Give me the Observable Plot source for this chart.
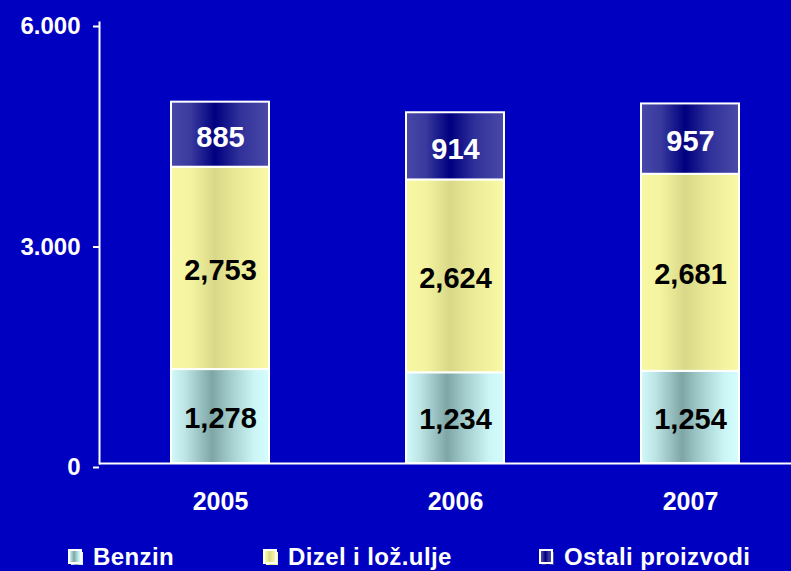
<!DOCTYPE html>
<html><head><meta charset="utf-8">
<script src="https://cdn.jsdelivr.net/npm/d3@7"></script>
<script src="https://cdn.jsdelivr.net/npm/@observablehq/plot@0.6"></script>
<style>
html,body{margin:0;padding:0;background:#0000C0;}
#wrap{width:791px;height:571px;position:relative;overflow:hidden;font-family:"Liberation Sans",Arial,sans-serif;}
#legend{position:relative;width:791px;height:41px;color:white;font-weight:bold;font-size:24px;}
.item{position:absolute;top:0;height:41px;}
.item svg{position:absolute;left:0;top:19px;}
.item span{position:absolute;left:25px;top:13px;white-space:nowrap;line-height:28px;letter-spacing:0.4px;}
</style>
</head><body>
<svg width="0" height="0" style="position:absolute">
  <defs>
    <linearGradient id="gBenzin" x1="0" x2="1" y1="0" y2="0">
      <stop offset="0" stop-color="#D2FAFA"/>
      <stop offset="0.15" stop-color="#BCE4E4"/>
      <stop offset="0.42" stop-color="#7FA6A6"/>
      <stop offset="0.62" stop-color="#A6D0D0"/>
      <stop offset="0.85" stop-color="#CCF6F6"/>
      <stop offset="1" stop-color="#D4FCFC"/>
    </linearGradient>
    <linearGradient id="gDizel" x1="0" x2="1" y1="0" y2="0">
      <stop offset="0" stop-color="#F8F8A4"/>
      <stop offset="0.2" stop-color="#F4F4A0"/>
      <stop offset="0.45" stop-color="#D8D888"/>
      <stop offset="0.7" stop-color="#ECEC98"/>
      <stop offset="1" stop-color="#FAFAA6"/>
    </linearGradient>
    <linearGradient id="gOstali" x1="0" x2="1" y1="0" y2="0">
      <stop offset="0" stop-color="#4848A8"/>
      <stop offset="0.2" stop-color="#3A3A9E"/>
      <stop offset="0.45" stop-color="#000080"/>
      <stop offset="0.7" stop-color="#30309A"/>
      <stop offset="1" stop-color="#4A4AA8"/>
    </linearGradient>
  </defs>
</svg>
<div id="wrap">
  <div id="chart"></div>
  <div id="legend"></div>
</div>
<script>
const years = ["2005", "2006", "2007"];
const series = ["Benzin", "Dizel i lož.ulje", "Ostali proizvodi"];
const benzin = [1278, 1234, 1254];
const dizel = [2753, 2624, 2681];
const ostali = [885, 914, 957];
const yTicks = [0, 3000, 6000];
const fills = ["url(#gBenzin)", "url(#gDizel)", "url(#gOstali)"];

const values = [benzin, dizel, ostali];
const data = [];
series.forEach((s, i) => years.forEach((y, j) => data.push({year: y, type: s, value: values[i][j]})));

const fmtLabel = d3.format(",");
const fmtTick = d => d3.format(",")(d).replace(/,/g, ".");

const chart = Plot.plot({
  width: 791,
  height: 530,
  marginLeft: 99,
  marginRight: 0,
  marginTop: 22,
  marginBottom: 67,
  style: {background: "#0000C0", color: "white", fontFamily: "'Liberation Sans', Arial, sans-serif", fontWeight: "bold", overflow: "visible"},
  x: {domain: years, range: [102.5, 807.5], paddingInner: 0.583, paddingOuter: 0.2915, label: null},
  y: {domain: [0, 6000], label: null},
  color: {domain: series, range: fills},
  marks: [
    Plot.barY(data, Plot.stackY({x: "year", y: "value", z: "type", fill: "type", stroke: "white", strokeWidth: 2})),
    Plot.text(data, Plot.stackY({x: "year", y: "value", z: "type",
      text: d => d.type === "Ostali proizvodi" ? null : fmtLabel(d.value),
      fill: "black", fontSize: 29, fontWeight: "bold", dy: 2})),
    Plot.text(data, Plot.stackY({x: "year", y: "value", z: "type",
      text: d => d.type === "Ostali proizvodi" ? fmtLabel(d.value) : null,
      fill: "white", fontSize: 29, fontWeight: "bold", dy: 3})),
    Plot.frame({anchor: "left", stroke: "white", strokeWidth: 2}),
    Plot.ruleY([0], {stroke: "white", strokeWidth: 2}),
    Plot.axisY({ticks: yTicks, tickFormat: fmtTick, tickSize: 6, tickPadding: 13, strokeWidth: 2, fontSize: 24, fontWeight: "bold", fill: "white", stroke: "white", dy: 4, label: null, style: "letter-spacing:1px"}),
    Plot.axisX({tickSize: 0, tickPadding: 29, fontSize: 25, fontWeight: "bold", fill: "white", label: null, style: "letter-spacing:1px"})
  ]
});
document.getElementById("chart").appendChild(chart);

const legend = document.getElementById("legend");
const lefts = [68, 263, 539];
series.forEach((s, i) => {
  const item = document.createElement("div");
  item.className = "item";
  item.style.left = lefts[i] + "px";
  item.innerHTML = `<svg width="16" height="17"><rect x="3" y="3" width="12" height="13" fill="${fills[i]}"/><rect x="1" y="1" width="12" height="13" fill="${fills[i]}" stroke="white" stroke-width="2"/></svg><span>${s}</span>`;
  legend.appendChild(item);
});
</script>
</body></html>
